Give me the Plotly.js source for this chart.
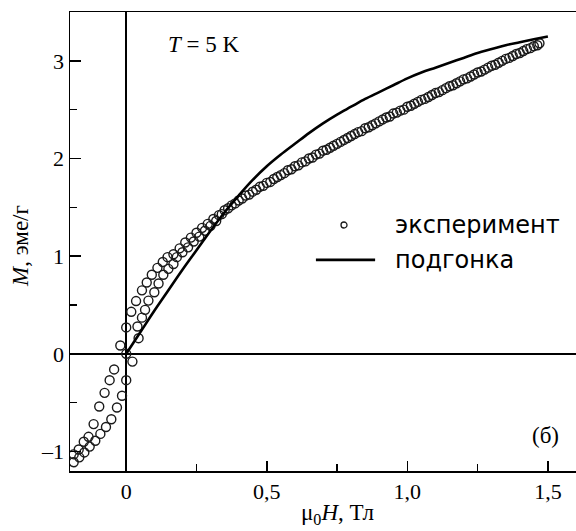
<!DOCTYPE html>
<html>
<head>
<meta charset="utf-8">
<script src="https://cdn.plot.ly/plotly-3.0.1.min.js"></script>
<style>html,body{margin:0;padding:0;background:#fff}#chart{width:576px;height:531px}</style>
</head>
<body>
<div id="chart"></div>
<script>
// Experimental points: low-field upper (descending) branch
const expUpX = [0.33,0.31,0.29,0.27,0.25,0.23,0.21,0.19,0.168,0.147,0.13,0.111,0.091,0.073,0.056,0.035,0.018,0.0,-0.021,-0.043,-0.059,-0.077,-0.096,-0.116,-0.134,-0.151,-0.169,-0.187];
const expUpY = [1.42,1.38,1.33,1.29,1.24,1.19,1.14,1.08,1.02,0.99,0.94,0.88,0.81,0.73,0.65,0.54,0.43,0.27,0.085,-0.16,-0.27,-0.40,-0.54,-0.72,-0.85,-0.90,-0.98,-1.03];
// Experimental points: low-field lower (ascending) branch
const expLowX = [-0.187,-0.167,-0.149,-0.13,-0.11,-0.092,-0.072,-0.053,-0.033,-0.015,0.0,0.0,0.022,0.044,0.04,0.056,0.067,0.079,0.1,0.115,0.132,0.15,0.168,0.18,0.20,0.22,0.24,0.26,0.28,0.30,0.32,0.34];
const expLowY = [-1.11,-1.06,-1.01,-0.95,-0.89,-0.82,-0.75,-0.67,-0.55,-0.43,-0.27,0.0,-0.08,0.16,0.28,0.37,0.45,0.545,0.63,0.72,0.81,0.87,0.92,0.99,1.04,1.09,1.15,1.20,1.26,1.31,1.36,1.43];
// Experimental points: high-field band, row A
const bandAX = [0.35,0.375,0.40,0.425,0.45,0.475,0.50,0.525,0.55,0.575,0.60,0.625,0.65,0.675,0.70,0.725,0.75,0.775,0.80,0.825,0.85,0.875,0.90,0.925,0.95,0.975,1.00,1.025,1.05,1.075,1.10,1.125,1.15,1.175,1.20,1.225,1.25,1.275,1.30,1.325,1.35,1.375,1.40,1.425,1.45,1.47];
const bandAY = [1.47,1.52,1.57,1.62,1.66,1.71,1.75,1.79,1.83,1.88,1.92,1.96,2.00,2.04,2.08,2.11,2.15,2.19,2.23,2.27,2.31,2.34,2.38,2.42,2.46,2.49,2.53,2.56,2.60,2.63,2.67,2.70,2.74,2.77,2.81,2.84,2.88,2.91,2.95,2.98,3.02,3.05,3.08,3.12,3.15,3.18];
// Experimental points: high-field band, row B
const bandBX = [0.3625,0.3875,0.4125,0.4375,0.4625,0.4875,0.5125,0.5375,0.5625,0.5875,0.6125,0.6375,0.6625,0.6875,0.7125,0.7375,0.7625,0.7875,0.8125,0.8375,0.8625,0.8875,0.9125,0.9375,0.9625,0.9875,1.0125,1.0375,1.0625,1.0875,1.1125,1.1375,1.1625,1.1875,1.2125,1.2375,1.2625,1.2875,1.3125,1.3375,1.3625,1.3875,1.4125,1.4375,1.4625];
const bandBY = [1.49,1.54,1.59,1.63,1.68,1.72,1.76,1.81,1.85,1.89,1.93,1.97,2.01,2.05,2.09,2.13,2.17,2.21,2.25,2.28,2.32,2.36,2.40,2.43,2.47,2.50,2.54,2.58,2.61,2.65,2.68,2.72,2.75,2.79,2.82,2.86,2.89,2.93,2.96,3.00,3.03,3.07,3.10,3.13,3.16];
// Fit curve
const fitX = [0,0.05,0.10,0.15,0.20,0.25,0.30,0.35,0.40,0.45,0.50,0.55,0.60,0.65,0.70,0.75,0.80,0.85,0.90,0.95,1.00,1.05,1.10,1.15,1.20,1.25,1.30,1.35,1.40,1.45,1.50];
const fitY = [0,0.22,0.44,0.65,0.86,1.06,1.26,1.45,1.62,1.78,1.92,2.04,2.15,2.26,2.36,2.45,2.53,2.61,2.68,2.75,2.82,2.88,2.93,2.98,3.03,3.08,3.12,3.16,3.19,3.22,3.25];

const xTickVals = [0,0.5,1.0,1.5];
const xTickText = ['0','0,5','1,0','1,5'];
const yTickVals = [-1,0,1,2,3];
const yTickText = ['\u20131','0','1','2','3'];
const seriesNames = ['эксперимент','подгонка'];

const expX = expUpX.concat(expLowX, bandAX, bandBX);
const expY = expUpY.concat(expLowY, bandAY, bandBY);

const serif = '"Liberation Serif", "Times New Roman", serif';
const sans = '"DejaVu Sans", "Liberation Sans", Arial, sans-serif';

const traces = [
  {x: expX, y: expY, type: 'scatter', mode: 'markers', name: seriesNames[0], showlegend: false,
   marker: {symbol: 'circle-open', size: 9, color: '#1a1a1a', line: {width: 1.4, color: '#1a1a1a'}}},
  {x: fitX, y: fitY, type: 'scatter', mode: 'lines', name: seriesNames[1], showlegend: false,
   line: {color: '#000', width: 2.6, shape: 'spline'}}
];

const row1 = 0.536, row2 = 0.46;
const layout = {
  width: 576, height: 531,
  margin: {l: 70, r: 0, t: 12, b: 60},
  paper_bgcolor: '#fff', plot_bgcolor: '#fff',
  showlegend: false,
  xaxis: {range: [-0.2, 1.6], showgrid: false, zeroline: true, zerolinecolor: '#000', zerolinewidth: 1.5,
          showline: true, linecolor: '#000', linewidth: 1.5, mirror: true,
          ticks: 'inside', ticklen: 10, tickwidth: 1.5, tickcolor: '#000',
          tickmode: 'array', tickvals: xTickVals, ticktext: xTickText,
          tickfont: {family: serif, size: 22, color: '#000'},
          minor: {tickmode: 'linear', tick0: 0, dtick: 0.25, ticks: 'inside', ticklen: 7, tickwidth: 1.5, tickcolor: '#000'}},
  yaxis: {range: [-1.2, 3.5], showgrid: false, zeroline: true, zerolinecolor: '#000', zerolinewidth: 1.5,
          showline: true, linecolor: '#000', linewidth: 1.5, mirror: false,
          ticks: 'inside', ticklen: 11, tickwidth: 1.5, tickcolor: '#000',
          tickmode: 'array', tickvals: yTickVals, ticktext: yTickText,
          tickfont: {family: serif, size: 22, color: '#000'},
          minor: {tickmode: 'linear', tick0: 0, dtick: 0.5, ticks: 'inside', ticklen: 7, tickwidth: 1.5, tickcolor: '#000'}},
  shapes: [
    {type: 'circle', xref: 'paper', yref: 'paper', xsizemode: 'pixel', ysizemode: 'pixel',
     xanchor: 0.5415, yanchor: row1, x0: -3, x1: 3, y0: -3, y1: 3, line: {color: '#1a1a1a', width: 1.3}},
    {type: 'line', xref: 'paper', yref: 'paper', x0: 0.486, x1: 0.603, y0: row2, y1: row2, line: {color: '#000', width: 2.6}}
  ],
  annotations: [
    {xref: 'paper', yref: 'paper', x: 0.638, y: row1, xanchor: 'left', yanchor: 'middle', showarrow: false,
     text: seriesNames[0], font: {family: sans, size: 24, color: '#000'}},
    {xref: 'paper', yref: 'paper', x: 0.638, y: row2, xanchor: 'left', yanchor: 'middle', showarrow: false,
     text: seriesNames[1], font: {family: sans, size: 24, color: '#000'}},
    {xref: 'paper', yref: 'paper', x: 0.19, y: 0.93, xanchor: 'left', yanchor: 'middle', showarrow: false,
     text: '<i>T</i> = 5 K', font: {family: serif, size: 23, color: '#000'}},
    {xref: 'paper', yref: 'paper', x: 0.97, y: 0.077, xanchor: 'right', yanchor: 'middle', showarrow: false,
     text: '(б)', font: {family: serif, size: 23, color: '#000'}},
    {xref: 'paper', yref: 'paper', x: 0.528, y: -0.094, xanchor: 'center', yanchor: 'middle', showarrow: false,
     text: 'μ<sub>0</sub><i>H</i>, Тл', font: {family: serif, size: 23, color: '#000'}},
    {xref: 'paper', yref: 'paper', x: -0.099, y: 0.49, xanchor: 'center', yanchor: 'middle', showarrow: false, textangle: -90,
     text: '<i>M</i>, эме/г', font: {family: serif, size: 23, color: '#000'}}
  ]
};

Plotly.newPlot('chart', traces, layout, {displayModeBar: false, staticPlot: true});
</script>
</body>
</html>
